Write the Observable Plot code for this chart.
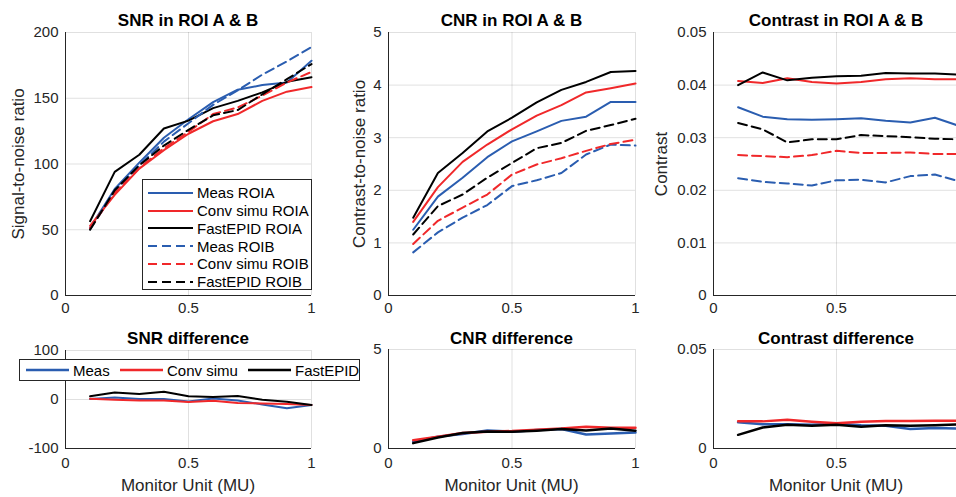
<!DOCTYPE html>
<html><head><meta charset="utf-8">
<script src="https://cdn.jsdelivr.net/npm/d3@7"></script>
<script src="https://cdn.jsdelivr.net/npm/@observablehq/plot@0.6"></script>
<style>
body{margin:0;background:#fff;}
#wrap{position:relative;width:956px;height:497px;overflow:hidden;font-family:"Liberation Sans",Arial,Helvetica,sans-serif;color:#262626;}
.panel{position:absolute;}
.title{position:absolute;transform:translate(-50%,-50%);font-weight:bold;font-size:17px;color:#000;white-space:nowrap;}
.ylab{position:absolute;transform:translate(-50%,-50%) rotate(-90deg);font-size:17px;white-space:nowrap;}
.xlab{position:absolute;transform:translate(-50%,-50%);font-size:17px;white-space:nowrap;}
.legend{position:absolute;background:#fff;border:1px solid #262626;box-sizing:border-box;font-size:15px;color:#000;z-index:5;}
.legend .item{position:absolute;white-space:nowrap;line-height:1;}
</style></head>
<body>
<div id="wrap"></div>
<script>
// ---------- data ----------
const mu = [0.1, 0.2, 0.3, 0.4, 0.5, 0.6, 0.7, 0.8, 0.9, 1.0];
const xTicks = [0, 0.5, 1];
const xTicksCut = [0, 0.5]; // right column: the "1" label lies beyond the picture edge

const roiNames = ["Meas ROIA", "Conv simu ROIA", "FastEPID ROIA", "Meas ROIB", "Conv simu ROIB", "FastEPID ROIB"];
const diffNames = ["Meas", "Conv simu", "FastEPID"];

const snrMeasA = [51.5, 81, 101, 120, 134, 147, 156.5, 160, 162, 178.5];
const snrConvA = [53, 76.5, 96.5, 110.5, 123, 132.5, 138, 148, 155, 158.5];
const snrFastA = [56.5, 94, 107, 127, 133, 142.5, 148, 154.5, 162.5, 166];
const snrMeasB = [50.5, 79, 99, 117, 131, 145, 156, 168, 178, 189];
const snrConvB = [51, 78, 97, 112, 124.5, 138, 143, 152, 162, 170];
const snrFastB = [50, 80, 99, 114, 126, 137, 141, 153, 164.5, 176];

const cnrMeasA = [1.25, 1.88, 2.24, 2.63, 2.93, 3.12, 3.32, 3.40, 3.68, 3.68];
const cnrConvA = [1.40, 2.06, 2.54, 2.87, 3.16, 3.42, 3.62, 3.86, 3.94, 4.03];
const cnrFastA = [1.48, 2.33, 2.71, 3.12, 3.38, 3.67, 3.91, 4.06, 4.25, 4.27];
const cnrMeasB = [0.82, 1.20, 1.48, 1.72, 2.08, 2.19, 2.33, 2.68, 2.87, 2.85];
const cnrConvB = [0.98, 1.42, 1.67, 1.92, 2.30, 2.49, 2.61, 2.75, 2.88, 2.96];
const cnrFastB = [1.16, 1.70, 1.92, 2.24, 2.52, 2.80, 2.90, 3.13, 3.24, 3.36];

const conMeasA = [0.0358, 0.0340, 0.0335, 0.0334, 0.0335, 0.0337, 0.0332, 0.0329, 0.0338, 0.0322];
const conConvA = [0.0408, 0.0404, 0.0413, 0.0406, 0.0403, 0.0406, 0.0411, 0.0413, 0.0411, 0.0411];
const conFastA = [0.0400, 0.0424, 0.0409, 0.0414, 0.0417, 0.0418, 0.0423, 0.0422, 0.0422, 0.0420];
const conMeasB = [0.0223, 0.0216, 0.0213, 0.0209, 0.0219, 0.0220, 0.0215, 0.0227, 0.0230, 0.0217];
const conConvB = [0.0267, 0.0265, 0.0263, 0.0267, 0.0275, 0.0271, 0.0271, 0.0272, 0.0269, 0.0269];
const conFastB = [0.0328, 0.0316, 0.0291, 0.0297, 0.0297, 0.0305, 0.0303, 0.0301, 0.0298, 0.0297];

const snrDiffMeas = [1, 4, 1, 1, -4, 2, -2, -10, -18, -11];
const snrDiffConv = [1.5, -0.5, -2, -2, -5, -2.5, -7, -8, -9, -11];
const snrDiffFast = [6.5, 14.5, 11, 16, 6.5, 5, 7, -0.5, -4.5, -11];

const cnrDiffMeas = [0.34, 0.60, 0.73, 0.91, 0.85, 0.93, 0.98, 0.71, 0.76, 0.81];
const cnrDiffConv = [0.42, 0.60, 0.78, 0.85, 0.88, 0.95, 1.01, 1.10, 1.05, 1.05];
const cnrDiffFast = [0.27, 0.56, 0.78, 0.86, 0.84, 0.90, 0.98, 0.91, 1.01, 0.90];

const conDiffMeas = [0.0132, 0.0123, 0.0122, 0.0120, 0.0125, 0.0118, 0.0115, 0.0098, 0.0103, 0.0101];
const conDiffConv = [0.0137, 0.0137, 0.0145, 0.0135, 0.0127, 0.0135, 0.0139, 0.0139, 0.0140, 0.0140];
const conDiffFast = [0.0069, 0.0106, 0.0120, 0.0115, 0.0120, 0.0110, 0.0117, 0.0115, 0.0118, 0.0122];

const snrTicks = [0, 50, 100, 150, 200];
const cnrTicks = [0, 1, 2, 3, 4, 5];
const conTicks = [0, 0.01, 0.02, 0.03, 0.04, 0.05];
const snrDiffTicks = [-100, 0, 100];
const cnrDiffTicks = [0, 5];
const conDiffTicks = [0, 0.05];

// ---------- styling ----------
const BLUE = "#2a5db0", RED = "#f0282a", BLACK = "#000000";
const colors = [BLUE, RED, BLACK, BLUE, RED, BLACK];
const dashed = [false, false, false, true, true, true];
const DASH = "9,5";
const FONT = '"Liberation Sans", Arial, Helvetica, sans-serif';
const wrap = document.getElementById("wrap");

function panel(o) {
  const marks = [
    Plot.gridX(xTicks, {stroke: "#000", strokeOpacity: 0.12}),
    Plot.gridY(o.yTicks, {stroke: "#000", strokeOpacity: 0.12})
  ];
  o.series.forEach((vals, i) => {
    const opts = {x: "x", y: "y", stroke: colors[i], strokeWidth: o.sw};
    if (dashed[i]) opts.strokeDasharray = DASH;
    marks.push(Plot.line(mu.map((x, j) => ({x, y: vals[j]})), opts));
  });
  marks.push(Plot.ruleX([0], {stroke: "#262626", strokeWidth: 1}));
  marks.push(Plot.ruleY([o.yDomain[0]], {stroke: "#262626", strokeWidth: 1}));
  marks.push(Plot.axisX(o.xLabels || xTicks, {tickSize: 0, tickPadding: o.xPad, tickFormat: d => String(d), label: null}));
  marks.push(Plot.axisY(o.yTicks, {tickSize: 0, tickPadding: 7, tickFormat: d => String(d), label: null}));
  const svg = Plot.plot({
    width: o.width, height: o.height,
    marginTop: o.mt, marginRight: o.mr, marginBottom: o.mb, marginLeft: o.ml,
    x: {domain: [0, 1]},
    y: {domain: o.yDomain},
    style: {fontSize: "15px", fontFamily: FONT, color: "#262626", background: "transparent", overflow: "visible"},
    marks
  });
  svg.classList.add("panel");
  svg.style.position = "absolute";
  svg.style.left = o.left + "px";
  svg.style.top = o.top + "px";
  wrap.appendChild(svg);
}

function label(cls, text, x, y) {
  const d = document.createElement("div");
  d.className = cls;
  d.textContent = text;
  d.style.left = x + "px";
  d.style.top = y + "px";
  wrap.appendChild(d);
}

// top row
panel({left: 0, top: 0, width: 320, height: 320, mt: 32, mr: 9, mb: 25, ml: 65, xPad: 7, sw: 2,
  yDomain: [0, 200], yTicks: snrTicks, series: [snrMeasA, snrConvA, snrFastA, snrMeasB, snrConvB, snrFastB]});
panel({left: 320, top: 0, width: 320, height: 320, mt: 32, mr: 5, mb: 25, ml: 68, xPad: 7, sw: 2,
  yDomain: [0, 5], yTicks: cnrTicks, series: [cnrMeasA, cnrConvA, cnrFastA, cnrMeasB, cnrConvB, cnrFastB]});
panel({left: 640, top: 0, width: 330, height: 320, mt: 32, mr: 11, mb: 25, ml: 73, xPad: 7, sw: 2, xLabels: xTicksCut,
  yDomain: [0, 0.05], yTicks: conTicks, series: [conMeasA, conConvA, conFastA, conMeasB, conConvB, conFastB]});
// bottom row
panel({left: 0, top: 330, width: 320, height: 150, mt: 20, mr: 9, mb: 32, ml: 65, xPad: 9, sw: 2,
  yDomain: [-100, 100], yTicks: snrDiffTicks, series: [snrDiffMeas, snrDiffConv, snrDiffFast]});
panel({left: 320, top: 330, width: 320, height: 150, mt: 19, mr: 5, mb: 32, ml: 68, xPad: 9, sw: 2.5,
  yDomain: [0, 5], yTicks: cnrDiffTicks, series: [cnrDiffMeas, cnrDiffConv, cnrDiffFast]});
panel({left: 640, top: 330, width: 330, height: 150, mt: 19, mr: 11, mb: 32, ml: 73, xPad: 9, sw: 2.5, xLabels: xTicksCut,
  yDomain: [0, 0.05], yTicks: conDiffTicks, series: [conDiffMeas, conDiffConv, conDiffFast]});

// titles & labels
label("title", "SNR in ROI A & B", 188, 21);
label("title", "CNR in ROI A & B", 511.5, 21);
label("title", "Contrast in ROI A & B", 836, 21);
label("title", "SNR difference", 188, 339);
label("title", "CNR difference", 511.5, 339);
label("title", "Contrast difference", 836, 339);
label("ylab", "Signal-to-noise ratio", 19, 163.5);
label("ylab", "Contrast-to-noise ratio", 360, 163.5);
label("ylab", "Contrast", 662, 163.5);
label("xlab", "Monitor Unit (MU)", 188, 486);
label("xlab", "Monitor Unit (MU)", 511.5, 486);
label("xlab", "Monitor Unit (MU)", 836, 486);

function sample(color, dash, w, sw) {
  return `<svg width="${w}" height="6" style="vertical-align:middle"><line x1="0" x2="${w}" y1="3" y2="3" stroke="${color}" stroke-width="${sw}" ${dash ? `stroke-dasharray="${DASH}"` : ""}/></svg>`;
}

// legend 1
const lg1 = document.createElement("div");
lg1.className = "legend";
Object.assign(lg1.style, {left: "142px", top: "179px", width: "170px", height: "111px"});
roiNames.forEach((name, i) => {
  const it = document.createElement("div");
  it.className = "item";
  it.style.left = "5px";
  it.style.top = (12.7 + 17.8 * i - 8) + "px";
  it.style.height = "16px";
  it.style.display = "flex";
  it.style.alignItems = "center";
  it.innerHTML = sample(colors[i], dashed[i], 45, 2) + `<span style="margin-left:4px">${name}</span>`;
  lg1.appendChild(it);
});
wrap.appendChild(lg1);

// legend 2
const lg2 = document.createElement("div");
lg2.className = "legend";
Object.assign(lg2.style, {left: "19px", top: "359px", width: "341px", height: "22px"});
const lx = [6, 100, 228];
diffNames.forEach((name, i) => {
  const it = document.createElement("div");
  it.className = "item";
  it.style.left = lx[i] + "px";
  it.style.top = "2px";
  it.style.height = "16px";
  it.style.display = "flex";
  it.style.alignItems = "center";
  it.innerHTML = sample(colors[i], false, 43, 2.5) + `<span style="margin-left:4px">${name}</span>`;
  lg2.appendChild(it);
});
wrap.appendChild(lg2);
</script>
</body></html>
